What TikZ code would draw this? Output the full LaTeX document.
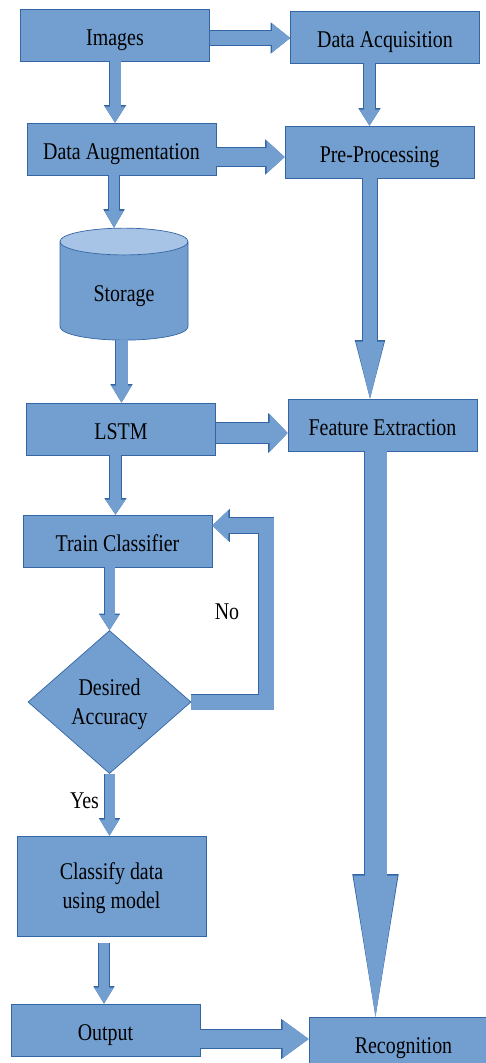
\documentclass[tikz,border=0pt]{standalone}
\usepackage{fontspec}
\setmainfont{Liberation Serif}[FakeStretch=0.83]
\usepackage{tikz}
\usetikzlibrary{arrows.meta, positioning, shapes.geometric}

\definecolor{boxfill}{HTML}{729FCF}
\definecolor{edge}{HTML}{3465A4}
\definecolor{lidfill}{HTML}{A7C3E6}

\begin{document}
\begin{tikzpicture}[
    x=1pt, y=-1pt,
    txt/.style={font=\fontsize{24}{29}\selectfont},
    oneline/.style={text height=20pt, text depth=0pt},
    box/.style={rectangle, draw=edge, fill=boxfill, line width=0.7pt, minimum height=52pt, minimum width=189pt, inner sep=0pt, align=center, txt},
    block/.style={box, oneline},
    store/.style={cylinder, shape border rotate=90, shape aspect=0.44, draw=edge, line width=0.7pt, cylinder uses custom fill, cylinder body fill=boxfill, cylinder end fill=lidfill, minimum height=112pt, minimum width=128pt, inner sep=0pt, txt, oneline},
    decision/.style={diamond, draw=edge, fill=boxfill, line width=0.7pt, minimum width=163pt, minimum height=143pt, inner sep=0pt, align=center, txt, text depth=0pt},
    note/.style={txt, oneline, inner sep=0pt},
    flow/.code n args={3}{%
        \pgfmathsetmacro\flowout{#1+1.4}%
        \pgfmathsetmacro\flowwide{#2+2.4}%
        \pgfmathsetmacro\flowlong{#3+1.6}%
        \tikzset{draw=boxfill, line width=#1pt, line join=miter,
            -{Triangle[width=#2pt, length=#3pt, line width=0pt]},
            preaction={draw=edge, line width=\flowout pt,
                -{Triangle[width=\flowwide pt, length=\flowlong pt, line width=0pt]}}}},
]
    \useasboundingbox (0,0) rectangle (486,1063);

    % Left column
    \node[block] (images) at (115,35) {Images};
    \node[block] (aug) at (121.5,149) {Data Augmentation};
    \node[store] (storage) at (124,291) {Storage};
    \node[block] (lstm) at (121,429) {LSTM};
    \node[block] (train) at (117.5,541) {Train Classifier};
    \node[decision] (acc) at (109.5,702) {Desired\\Accuracy};
    \node[box, minimum height=100pt, text depth=0pt] (classify) at (111.5,886) {Classify data\\using model};
    \node[block] (output) at (105.5,1030) {Output};

    % Right column
    \node[block] (acq) at (385,37) {Data Acquisition};
    \node[block] (pre) at (379.5,152) {Pre-Processing};
    \node[block] (feat) at (382.5,425) {Feature Extraction};
    \node[block] (recog) at (403.5,1043) {Recognition};

    % Labels
    \node[note] (no) at (227,609) {No};
    \node[note] (yes) at (84.5,798) {Yes};

    % Connectors
    \draw[flow={14}{29}{18}] ([yshift=-3pt]images.east) -- ([yshift=-3pt]images.east -| acq.west);
    \draw[flow={11}{20}{16}] (images.south) -- (images.south |- aug.north);
    \draw[flow={11}{20}{16}] ([xshift=-15.5pt]acq.south) -- ([xshift=-15.5pt]acq.south |- pre.north);
    \draw[flow={18}{33}{18}] ([yshift=-8pt]aug.east) -- ([yshift=-8pt]aug.east -| pre.west);
    \draw[flow={10}{19}{17}] ([xshift=-7.5pt]aug.south) -- ([xshift=-7.5pt]aug.south |- storage.north);
    \draw[flow={14}{28}{57}] ([xshift=-9.5pt]pre.south) -- ([xshift=-9.5pt]pre.south |- feat.north);
    \draw[flow={12}{20}{17}] ([xshift=-2.5pt]storage.south) -- ([xshift=-2.5pt]storage.south |- lstm.north);
    \draw[flow={20}{38}{18}] ([yshift=-4pt]lstm.east) -- ([yshift=-4pt]lstm.east -| feat.west);
    \draw[flow={11}{20}{15}] ([xshift=-5.5pt]lstm.south) -- ([xshift=-5.5pt]lstm.south |- train.north);
    \draw[flow={22}{44}{141}] ([xshift=-7pt]feat.south) -- ([xshift=-7pt]feat.south |- recog.north);
    \draw[flow={10}{19}{15}] (train.south -| acc.north) -- (acc.north);
    \coordinate (loop) at (266,525.5);
    \draw[flow={15}{31}{16}] (acc.east) -| (loop) -- ([yshift=15.5pt]train.east);
    \draw[flow={10}{19}{16}] (acc.south) -- (acc.south |- classify.north);
    \draw[flow={10}{19}{16}] ([xshift=-7.5pt,yshift=-7pt]classify.south) -- ([xshift=-7.5pt]classify.south |- output.north);
    \draw[flow={18}{38}{26}] ([yshift=-9pt]output.east) -- ([yshift=-9pt]output.east -| recog.west);
\end{tikzpicture}
\end{document}
